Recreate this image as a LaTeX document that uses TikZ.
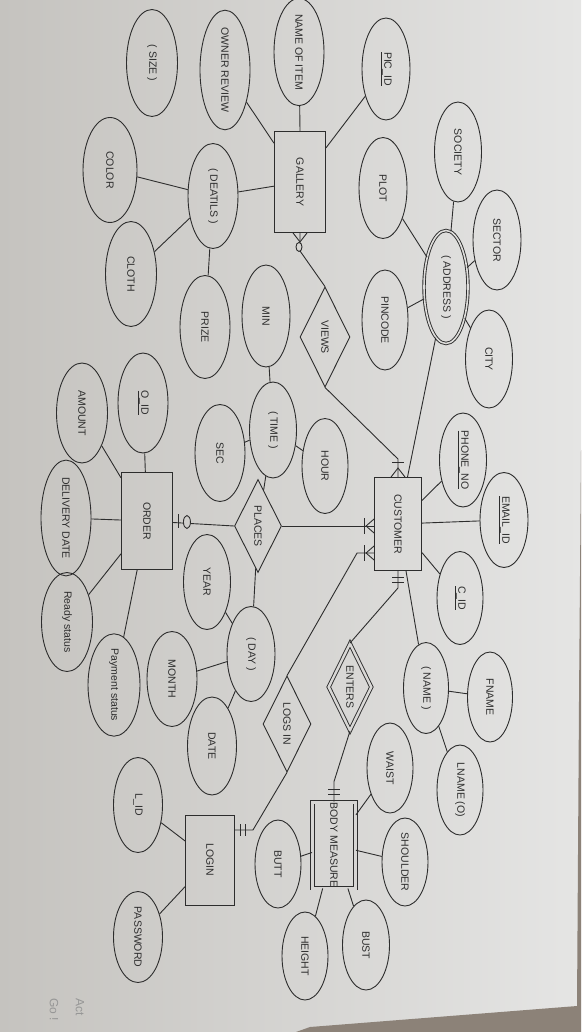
\documentclass[tikz,border=0pt]{standalone}
\usepackage{fontspec}
\setmainfont{Liberation Sans}
\usepackage{graphicx}
\usetikzlibrary{calc,positioning,shapes.geometric}
\definecolor{PaperLeft}{RGB}{197,195,191}
\definecolor{PaperRight}{RGB}{229,229,228}
\definecolor{TableBrown}{RGB}{140,130,120}
\definecolor{Ink}{RGB}{45,45,45}
\definecolor{Watermark}{RGB}{150,150,150}
\newcommand{\vtext}[1]{\rotatebox{-90}{#1}}

\tikzset{
  erline/.style={draw=Ink, line width=0.9pt},
  attr/.style={ellipse, erline, inner sep=0pt, minimum width=48pt, minimum height=98pt,
    font=\fontsize{10.5}{12}\selectfont, text=Ink},
  entity/.style={rectangle, erline, inner sep=0pt, minimum width=49pt, minimum height=95pt,
    font=\fontsize{10.5}{12}\selectfont, text=Ink},
  relation/.style={diamond, erline, aspect=0.5, inner sep=0pt, minimum width=48pt,
    minimum height=95pt, font=\fontsize{10.5}{12}\selectfont, text=Ink},
}

\begin{document}
\begin{tikzpicture}[x=1pt,y=-1pt]
  \useasboundingbox (0,0) rectangle (581,1032);
  % photo background
  \fill[left color=PaperLeft, right color=PaperRight] (0,0) rectangle (581,1032);
  \fill[TableBrown] (581,450) -- (579,700) -- (577,1006) -- (310,1027) -- (296,1032) -- (581,1032) -- cycle;

  % gallery side
  \node[entity, minimum width=51pt, minimum height=101pt] (gallery) at (300,182) {\vtext{GALLERY}};
  \node[attr, minimum width=51pt, minimum height=107pt] (size) at (152,63) {\vtext{( SIZE )}};
  \node[attr, minimum width=50pt, minimum height=105pt] (owner) at (225,70) {\vtext{OWNER REVIEW}};
  \node[attr, minimum width=50pt, minimum height=104pt] (itemname) at (299,52) {\vtext{NAME OF ITEM}};
  \node[attr, minimum height=102pt] (picid) at (386,69) {\vtext{\underline{PIC\_ID}}};
  \node[attr, minimum width=50pt, minimum height=105pt] (details) at (213,196) {\vtext{( DEATILS )}};
  \node[attr, minimum width=54pt, minimum height=105pt] (color) at (110,170) {\vtext{COLOR}};
  \node[attr, minimum width=51pt, minimum height=105pt] (cloth) at (131,274) {\vtext{CLOTH}};
  \node[attr, minimum width=50pt, minimum height=103pt] (prize) at (205,327) {\vtext{PRIZE}};

  % address
  \node[attr, minimum width=44pt, minimum height=113pt, double=PaperLeft!23!PaperRight, double distance=1.6pt] (address) at (446,287) {\vtext{( ADDRESS )}};
  \node[attr, minimum width=47pt, minimum height=100pt] (society) at (458,152) {\vtext{SOCIETY}};
  \node[attr, minimum height=101pt] (plot) at (383,188) {\vtext{PLOT}};
  \node[attr, minimum height=100pt] (sector) at (497,240) {\vtext{SECTOR}};
  \node[attr, minimum width=47pt] (city) at (489,359) {\vtext{CITY}};
  \node[attr, minimum width=46pt, minimum height=100pt] (pincode) at (385,320) {\vtext{PINCODE}};

  % customer
  \node[entity, minimum width=47pt, minimum height=93pt] (cust) at (398,524) {\vtext{CUSTOMER}};
  \node[attr, minimum width=47pt, minimum height=94pt] (phone) at (463,460) {\vtext{\underline{PHONE\_NO}}};
  \node[attr, minimum height=95pt] (email) at (504,520) {\vtext{\underline{EMAIL\_ID}}};
  \node[attr, minimum width=46pt, minimum height=93pt] (cid) at (460,598) {\vtext{\underline{C\_ID}}};
  \node[attr, minimum width=45pt, minimum height=91pt] (name) at (426,688) {\vtext{( NAME )}};
  \node[attr, minimum width=45pt, minimum height=90pt] (fname) at (490,697) {\vtext{FNAME}};
  \node[attr, minimum width=46pt, minimum height=90pt] (lname) at (460,790) {\vtext{LNAME (O)}};

  % relations
  \node[relation, minimum width=50pt, minimum height=100pt] (views) at (325,337) {\vtext{VIEWS}};
  \node[relation, minimum width=47pt, minimum height=93pt] (places) at (258,526) {\vtext{PLACES}};
  \node[relation, minimum width=48pt, minimum height=96pt] (logsin) at (287,724) {\vtext{LOGS IN}};
  \node[relation, minimum width=43pt, minimum height=87pt, double=PaperLeft!40!PaperRight, double distance=2.4pt] (enters) at (350,687) {\vtext{ENTERS}};

  % time and day
  \node[attr, minimum height=102pt] (min) at (266,316) {\vtext{MIN}};
  \node[attr, minimum width=47pt, minimum height=96pt] (time) at (273,430) {\vtext{( TIME )}};
  \node[attr, minimum width=46pt, minimum height=95pt] (hour) at (325,466) {\vtext{HOUR}};
  \node[attr, minimum width=50pt, minimum height=97pt] (sec) at (220,453) {\vtext{SEC}};
  \node[attr, minimum width=47pt, minimum height=95pt] (year) at (207,582) {\vtext{YEAR}};
  \node[attr, minimum height=95pt] (day) at (251,654) {\vtext{( DAY )}};
  \node[attr, minimum width=50pt, minimum height=95pt] (month) at (172,679) {\vtext{MONTH}};
  \node[attr, minimum width=49pt] (date) at (212,746) {\vtext{DATE}};

  % order
  \node[entity, minimum width=51pt, minimum height=97pt] (order) at (147,521) {\vtext{ORDER}};
  \node[attr, minimum width=50pt, minimum height=100pt] (oid) at (143,403) {\vtext{\underline{O\_ID}}};
  \node[attr, minimum width=51pt, minimum height=100pt] (amount) at (82,413) {\vtext{AMOUNT}};
  \node[attr, minimum width=50pt, minimum height=97pt] (delivery) at (66,518) {\vtext{DELIVERY DATE}};
  \node[attr, minimum width=51pt, minimum height=99pt] (ready) at (67,622) {\vtext{Ready status}};
  \node[attr, minimum width=52pt, minimum height=96pt] (payment) at (114,685) {\vtext{Payment status}};

  % body measure and login
  \node[entity, minimum width=43pt, minimum height=86pt, double=PaperLeft!43!PaperRight, double distance=3pt] (body) at (334,845) {\vtext{BODY MEASURE}};
  \node[attr, minimum width=46pt, minimum height=90pt] (waist) at (390,768) {\vtext{WAIST}};
  \node[attr, minimum width=46pt, minimum height=88pt] (shoulder) at (405,862) {\vtext{SHOULDER}};
  \node[attr, minimum width=47pt, minimum height=90pt] (bust) at (366,945) {\vtext{BUST}};
  \node[attr, minimum width=46pt, minimum height=88pt] (height) at (305,956) {\vtext{HEIGHT}};
  \node[attr, minimum width=46pt, minimum height=88pt] (butt) at (278,864) {\vtext{BUTT}};
  \node[entity, minimum width=49pt, minimum height=90pt] (login) at (210,860) {\vtext{LOGIN}};
  \node[attr, minimum width=49pt, minimum height=95pt] (lid) at (138,805) {\vtext{L\_ID}};
  \node[attr, minimum width=49pt, minimum height=91pt] (password) at (138,937) {\vtext{PASSWORD}};

  % screen watermark, cut by the lower edge
  \node[anchor=north, inner sep=0pt, text=Watermark, font=\fontsize{12}{14}\selectfont] (wmact) at (80,998) {\vtext{Act}};
  \node[anchor=north, inner sep=0pt, text=Watermark, font=\fontsize{12}{14}\selectfont] (wmgo) at (54,998) {\vtext{Go !}};

  % attribute lines
  \draw[erline] (gallery.north) -- (itemname);
  \draw[erline] (gallery) -- (picid);
  \draw[erline] (gallery) -- (owner);
  \draw[erline] (gallery) -- (details);
  \draw[erline] (details) -- (color);
  \draw[erline] (details) -- (cloth);
  \draw[erline] (details) -- (prize);
  \draw[erline] (address) -- (society);
  \draw[erline] (address) -- (plot);
  \draw[erline] (address) -- (sector);
  \draw[erline] (address) -- (city);
  \draw[erline] (address) -- (pincode);
  \draw[erline] (cust) -- (address);
  \draw[erline] (cust) -- (phone);
  \draw[erline] (cust) -- (email);
  \draw[erline] (cust) -- (cid);
  \draw[erline] (cust) -- (name);
  \draw[erline] (name) -- (fname);
  \draw[erline] (name) -- (lname);
  \draw[erline] (time) -- (min);
  \draw[erline] (time) -- (sec);
  \draw[erline] (time) -- (hour);
  \draw[erline] (day) -- (year);
  \draw[erline] (day) -- (month);
  \draw[erline] (day) -- (date);
  \draw[erline] (order) -- (oid);
  \draw[erline] (order) -- (amount);
  \draw[erline] (order) -- (delivery);
  \draw[erline] (order) -- (ready);
  \draw[erline] (order) -- (payment);
  \draw[erline] (body) -- (waist);
  \draw[erline] (body) -- (shoulder);
  \draw[erline] (body) -- (bust);
  \draw[erline] (body) -- (height);
  \draw[erline] (body) -- (butt);
  \draw[erline] (login) -- (lid);
  \draw[erline] (login) -- (password);

  % relationship lines
  \draw[erline] (gallery.south) -- ($(gallery.south)+(0,18)$) -- (views.north);
  \draw[erline] (views.south) -- ($(cust.north)+(0,-18)$) -- (cust.north);
  \draw[erline] (places) -- (time);
  \draw[erline] (places) -- (day);
  \draw[erline] (places.west) -- (order);
  \draw[erline] (places.east) -- (places.east -| cust.west);
  \draw[erline] (logsin.north) -- ($(cust.west)+(-17,29)$) -- ($(cust.west)+(0,29)$);
  \draw[erline] (enters.north) -- ($(cust.south)+(0,17)$) -- (cust.south);
  \draw[erline] (enters.south) -- ($(body.north)+(0,-20)$) -- (body.north);
  \draw[erline] (logsin.south) -- ($(login.east)+(18,-30)$) -- ($(login.east)+(0,-30)$);

  % cardinality marks
  \draw[erline] ($(gallery.south)+(-7,0)$) -- ($(gallery.south)+(0,9)$) -- ($(gallery.south)+(7,0)$);
  \draw[erline, fill=PaperLeft!48!PaperRight] ($(gallery.south)+(-1,14)$) ellipse [x radius=3, y radius=4.5];
  \draw[erline] ($(cust.north)+(-7,0)$) -- ($(cust.north)+(0,-9)$) -- ($(cust.north)+(7,0)$);
  \draw[erline] ($(cust.north)+(-6,-15)$) -- ($(cust.north)+(6,-15)$);
  \draw[erline] ($(places.east -| cust.west)+(0,-7)$) -- ($(places.east -| cust.west)+(-8,0)$) -- ($(places.east -| cust.west)+(0,7)$);
  \draw[erline] ($(places.east -| cust.west)+(-10,-8)$) -- ($(places.east -| cust.west)+(-10,8)$);
  \draw[erline] ($(cust.west)+(0,22)$) -- ($(cust.west)+(-8,29)$) -- ($(cust.west)+(0,36)$);
  \draw[erline] ($(cust.west)+(-10,21)$) -- ($(cust.west)+(-10,37)$);
  \draw[erline] ($(cust.south)+(-6,6)$) -- ($(cust.south)+(6,6)$);
  \draw[erline] ($(cust.south)+(-6,11)$) -- ($(cust.south)+(6,11)$);
  \draw[erline] ($(body.north)+(-6,-7)$) -- ($(body.north)+(6,-7)$);
  \draw[erline] ($(body.north)+(-6,-12)$) -- ($(body.north)+(6,-12)$);
  \draw[erline] ($(login.east)+(5,-36)$) -- ($(login.east)+(5,-24)$);
  \draw[erline] ($(login.east)+(10,-36)$) -- ($(login.east)+(10,-24)$);
  \draw[erline] ($(order.east)+(5.5,-7)$) -- ($(order.east)+(5.5,7)$);
  \draw[erline, fill=PaperLeft!68!PaperRight] ($(order.east)+(14,1)$) ellipse [x radius=3.5, y radius=6.5];
\end{tikzpicture}
\end{document}
